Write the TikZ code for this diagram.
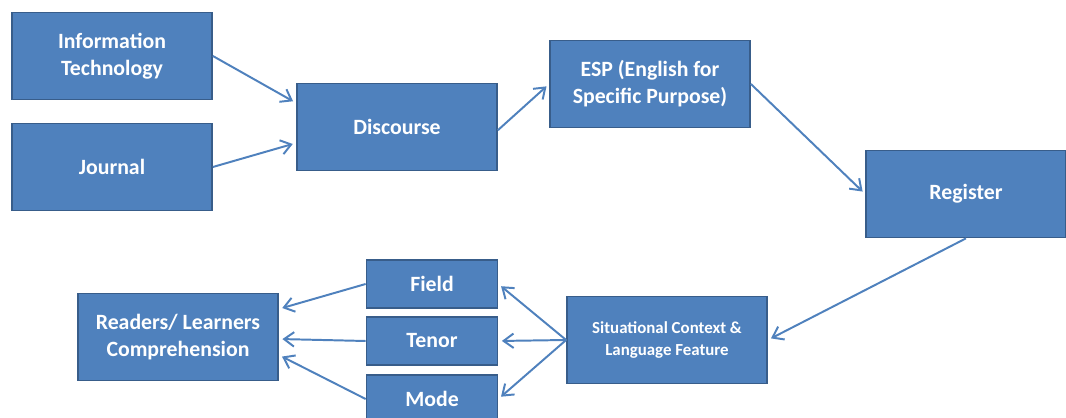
\documentclass[tikz,border=0pt]{standalone}
\usepackage{fontspec}
\setmainfont{Carlito}
\usetikzlibrary{arrows.meta}
\definecolor{boxblue}{HTML}{4F81BD}
\definecolor{boxedge}{HTML}{385D8A}

\begin{document}
\begin{tikzpicture}[x=0.025cm, y=-0.025cm,
    box/.style={draw=boxedge, line width=1.2pt, fill=boxblue, text=white,
        font=\bfseries\fontsize{15.5}{19.2}\selectfont, align=center,
        minimum width=5cm, minimum height=2.175cm, inner sep=0pt},
    smallbox/.style={box, minimum width=3.275cm, minimum height=1.2cm},
    link/.style={draw=boxblue, line width=1.4pt,
        -{Straight Barb[length=2.5mm, width=3.6mm]}, shorten >=2.5pt}]
    \useasboundingbox (0,0) rectangle (1066,418);

    % top row
    \node[box] (info) at (112, 56) {Information\\Technology};
    \node[box] (journal) at (112, 167) {Journal};
    \node[box] (disc) at (397, 127) {Discourse};
    \node[box] (esp) at (650, 84) {ESP (English for\\Specific Purpose)};
    \node[box] (reg) at (966, 194) {Register};

    % bottom row
    \node[box, font=\bfseries\fontsize{12}{15.6}\selectfont] (sit) at (667, 340) {Situational Context \&\\Language Feature};
    \node[smallbox] (field) at (432, 284) {Field};
    \node[smallbox] (tenor) at (432, 341) {Tenor};
    \node[smallbox] (mode) at (432, 399) {Mode};
    \node[box] (read) at (178, 337) {Readers/ Learners\\Comprehension};

    % connect the chain
    \draw[link] (info.east) -- ([yshift=0.6cm]disc.west);
    \draw[link] (journal.east) -- ([yshift=-0.4cm]disc.west);
    \draw[link] ([yshift=-0.08cm]disc.east) -- (esp.west);
    \draw[link] (esp.east) -- (reg.west);
    \draw[link] (reg.south) -- (sit.east);

    % fan out to field, tenor and mode
    \foreach \n in {field, tenor, mode}
    \draw[link] (sit.west) -- (\n.east);

    % and back into the readers box
    \draw[link] (field.west) -- ([yshift=0.7cm]read.east);
    \draw[link] (tenor.west) -- ([yshift=-0.05cm]read.east);
    \draw[link] (mode.west) -- ([yshift=-0.45cm]read.east);
\end{tikzpicture}
\end{document}
